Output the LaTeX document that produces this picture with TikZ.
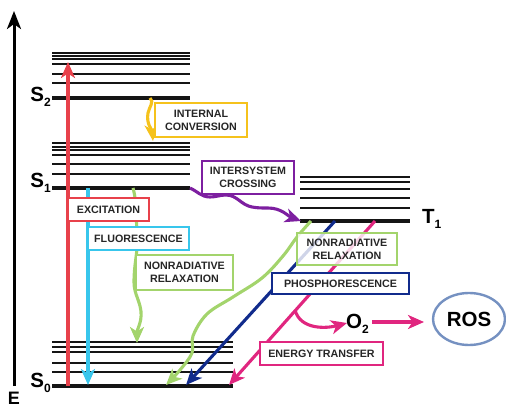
\documentclass[tikz,border=0pt]{standalone}
\usepackage{fontspec}
\setmainfont{Liberation Sans}
\usetikzlibrary{arrows.meta,shapes.geometric}
\definecolor{cRed}{HTML}{E8414B}
\definecolor{cCyan}{HTML}{38C6EC}
\definecolor{cGreen}{HTML}{A3D46C}
\definecolor{cYellow}{HTML}{F5C21C}
\definecolor{cPurple}{HTML}{7D1FA0}
\definecolor{cNavy}{HTML}{112B8C}
\definecolor{cMag}{HTML}{E0267F}
\definecolor{cRos}{HTML}{7591C1}
\definecolor{cLvl}{HTML}{151515}
\begin{document}
\begin{tikzpicture}[x=1pt,y=-1pt,
  lvl/.style={draw=cLvl,line width=1.7pt},
  lvlmain/.style={draw=cLvl,line width=3.1pt},
  tip/.style={-{Stealth[length=16pt,width=14pt,inset=4.5pt]}},
  conn/.style={line width=3.1pt,tip},
  lbox/.style={draw,line width=2.9pt,fill=white,align=center,inner sep=0pt,
    font=\fontsize{10.7}{13}\selectfont\bfseries,text=black!85},
  big/.style={font=\fontsize{20.5}{20}\selectfont\bfseries,inner sep=0pt}]
\useasboundingbox (0,0) rectangle (506,409);
% energy axis
\coordinate (axB) at (14,386);
\coordinate (axT) at (14,11);
\draw[line width=3pt,-{Stealth[length=18pt,width=14pt,inset=5pt]}] (axB) -- (axT);
\node[big,font=\fontsize{18}{18}\selectfont\bfseries,anchor=north] (E) at (14,391.5) {E};
% S2 manifold
\foreach \y in {53,56,59,64,74,83} \draw[lvl] (52,\y) -- (190,\y);
\draw[lvlmain] (52,98) coordinate (s2L) -- (190,98) coordinate (s2R);
% S1 manifold
\foreach \y in {143,147,150,155,164,174} \draw[lvl] (52,\y) -- (190,\y);
\draw[lvlmain] (52,188) coordinate (s1L) -- (190,188) coordinate (s1R);
% S0 manifold
\foreach \y in {342,347,352,363,372} \draw[lvl] (52,\y) -- (233,\y);
\draw[lvlmain] (52,386) coordinate (s0L) -- (233,386) coordinate (s0R);
% T1 manifold
\foreach \y in {177,182,189,198,208} \draw[lvl] (300,\y) -- (410,\y);
\draw[lvlmain] (300,221) coordinate (t1L) -- (410,221) coordinate (t1R);
% level labels
\node[big,anchor=base east] (S2lab) at (51,102) {S\raisebox{-5pt}{\fontsize{12}{12}\selectfont 2}};
\node[big,anchor=base east] (S1lab) at (51,187) {S\raisebox{-5pt}{\fontsize{12}{12}\selectfont 1}};
\node[big,anchor=base east] (S0lab) at (51,387) {S\raisebox{-5pt}{\fontsize{12}{12}\selectfont 0}};
\node[big,anchor=base west] (T1lab) at (422,223) {T\raisebox{-5pt}{\fontsize{12}{12}\selectfont 1}};
\node[big,anchor=base west] (O2) at (346,328) {O\raisebox{-5pt}{\fontsize{12}{12}\selectfont 2}};
\node[big,draw=cRos,line width=2.4pt,ellipse,minimum width=72pt,minimum height=52pt] (ROS) at (469,319) {ROS};
% connector end points
\coordinate (exA) at (68,386);  \coordinate (exB) at (68,62);
\coordinate (flA) at (88,188);  \coordinate (flB) at (88,385);
\coordinate (nrA) at (133,188); \coordinate (nrB) at (137,343);
\coordinate (icA) at (150,98);  \coordinate (icB) at (153,141);
\coordinate (iscB) at (301,221);
\coordinate (nr2A) at (311,221); \coordinate (nr2B) at (166,385);
\coordinate (phA) at (335,221); \coordinate (phB) at (186,385);
\coordinate (etA) at (375,221); \coordinate (etB) at (229,385);
\coordinate (brA) at (295,310); \coordinate (brB) at (347,323);
\coordinate (o2out) at (372,322); \coordinate (rosIn) at (424,322);
% connectors
\draw[conn,cRed] (exA) -- (exB);
\draw[conn,cCyan] (flA) -- (flB);
\draw[conn,cGreen] (nrA) to[out=-75,in=95] (137,230) to[out=-85,in=90] (134,282)
   to[out=-90,in=105] (140,306) to[out=-75,in=90] (nrB);
\draw[conn,cYellow] (icA) to[out=-40,in=80] (148,113) to[out=-100,in=95] (icB);
\draw[conn,cPurple] (s1R) to[out=-25,in=180] (210,197) to[out=0,in=180] (226,195)
   to[out=0,in=170] (252,207) to[out=-10,in=180] (268,208) to[out=0,in=160] (iscB);
\draw[conn,cGreen] plot[smooth,tension=0.6] coordinates {(nr2A) (297,237) (283,256) (262,278)
   (233,297) (207,314) (193,336) (192,353) (180,370) (nr2B)};
\draw[conn,cNavy] (phA) -- (phB);
\draw[conn,cMag] (etA) -- (etB);
\draw[conn,cMag] (brA) to[out=-75,in=195] (brB);
\draw[conn,cMag] (o2out) -- (rosIn);
% labels
\node[lbox,draw=cYellow,minimum width=92pt,minimum height=34pt] (ic) at (201,120) {INTERNAL\\CONVERSION};
\node[lbox,draw=cPurple,minimum width=92pt,minimum height=33pt] (isc) at (248,177.5) {INTERSYSTEM\\CROSSING};
\node[lbox,draw=cRed,minimum width=81pt,minimum height=23pt] (exc) at (108.5,209.5) {EXCITATION};
\node[lbox,draw=cCyan,minimum width=101pt,minimum height=23pt] (flu) at (138.5,238.5) {FLUORESCENCE};
\node[lbox,draw=cGreen,minimum width=97pt,minimum height=35pt] (nr1) at (184.5,272.5) {NONRADIATIVE\\RELAXATION};
\node[lbox,draw=cGreen,fill opacity=0.8,text opacity=1,minimum width=100pt,minimum height=32pt] (nr2) at (347,249) {NONRADIATIVE\\RELAXATION};
\node[lbox,draw=cNavy,minimum width=137pt,minimum height=21pt] (pho) at (340.5,283.5) {PHOSPHORESCENCE};
\node[lbox,draw=cMag,minimum width=123pt,minimum height=23pt] (et) at (321.5,353.5) {ENERGY TRANSFER};
\end{tikzpicture}
\end{document}
